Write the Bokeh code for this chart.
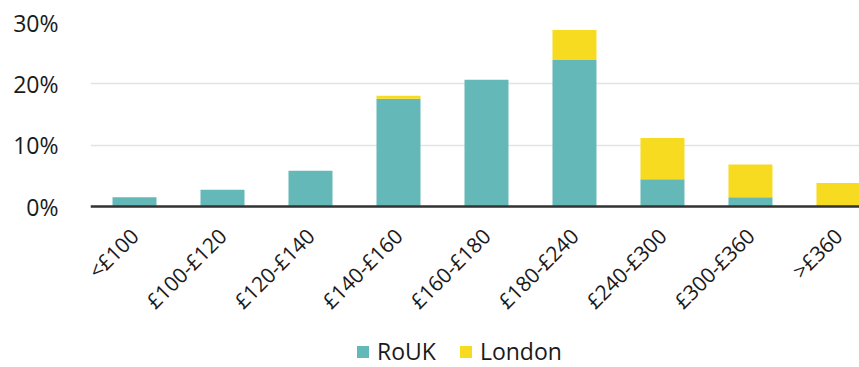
import math
from bokeh.plotting import figure
from bokeh.models import Range1d, FixedTicker, PrintfTickFormatter, Legend, LegendItem
from bokeh.embed import file_html
from bokeh.resources import INLINE

categories = ["<£100", "£100-£120", "£120-£140", "£140-£160", "£160-£180",
              "£180-£240", "£240-£300", "£300-£360", ">£360"]
rouk = [1.6, 2.8, 5.9, 17.6, 20.7, 24.0, 4.5, 1.6, 0.3]
london = [0.0, 0.0, 0.0, 0.5, 0.0, 4.8, 6.7, 5.3, 3.6]
y_ticks = [0, 10, 20, 30]

TEAL = "#64b9b8"
YELLOW = "#f7db20"
FONT = "Open Sans"

xs = list(range(len(categories)))
data = dict(x=xs, RoUK=rouk, London=london)

p = figure(width=859, height=367, output_backend="svg", toolbar_location=None,
           x_range=Range1d(-0.5, 8.239), y_range=Range1d(-26.1, 30),
           min_border_left=90, min_border_right=0, min_border_top=22,
           min_border_bottom=0)
p.outline_line_color = None

r = p.vbar_stack(["RoUK", "London"], x="x", width=0.5, source=data,
                 color=[TEAL, YELLOW], line_color=None)

# axes
xa = p.xaxis[0]
xa.fixed_location = 0
xa.ticker = FixedTicker(ticks=xs)
xa.major_label_overrides = {i: c for i, c in enumerate(categories)}
xa.major_label_orientation = math.pi / 4
xa.major_tick_line_color = None
xa.minor_tick_line_color = None
xa.axis_line_color = "#333333"
xa.axis_line_width = 2.5
xa.major_label_text_font = FONT
xa.major_label_text_font_size = "21px"
xa.major_label_text_color = "#1a1a1a"
xa.major_label_standoff = 19

ya = p.yaxis[0]
ya.ticker = FixedTicker(ticks=y_ticks)
ya.formatter = PrintfTickFormatter(format="%d%%")
ya.axis_line_color = None
ya.major_tick_line_color = None
ya.minor_tick_line_color = None
ya.major_label_text_font = FONT
ya.major_label_text_font_size = "23px"
ya.major_label_text_color = "#1a1a1a"
ya.major_label_standoff = 26

p.xgrid.grid_line_color = None
p.ygrid.grid_line_color = "#e3e3e3"
p.ygrid.grid_line_width = 1.5

legend = Legend(items=[LegendItem(label="RoUK", renderers=[r[0]]),
                       LegendItem(label="London", renderers=[r[1]])],
                orientation="horizontal", location=(265, 0))
legend.border_line_color = None
legend.background_fill_alpha = 0
legend.padding = 0
legend.margin = 0
legend.glyph_width = 15
legend.glyph_height = 15
legend.label_standoff = 7
legend.spacing = 22
legend.label_text_font = FONT
legend.label_text_font_size = "23px"
legend.label_text_color = "#1a1a1a"
p.add_layout(legend, "center")

open("out.html", "w").write(file_html(p, INLINE))
